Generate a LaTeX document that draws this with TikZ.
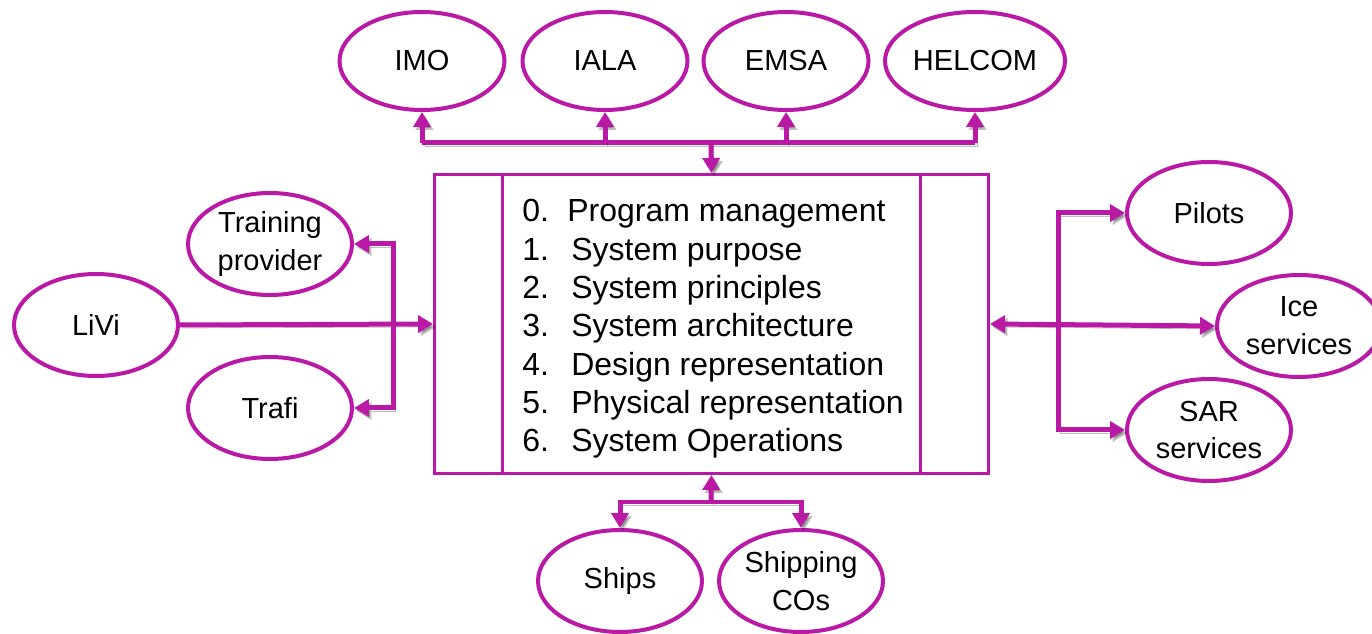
\documentclass[tikz,border=0pt]{standalone}
\usepackage{fontspec}
\setmainfont{Liberation Sans}
\usetikzlibrary{shapes.geometric,arrows.meta}
\definecolor{plum}{RGB}{185,25,165}
\begin{document}
\begin{tikzpicture}[x=0.02cm,y=-0.02cm,
    ent/.style={ellipse,draw=plum,line width=0.08cm,minimum width=3.28cm,minimum height=2.04cm,inner sep=0pt,align=center,font=\fontsize{16.5}{21.5}\selectfont},
    org/.style={ent,minimum width=3.3cm,minimum height=1.96cm},
    link/.style={plum,line width=0.1cm,preaction={draw=black,opacity=0.25,transform canvas={shift={(0.05cm,-0.06cm)}}}},
    arr/.style={link,-{Triangle[length=0.3cm,width=0.34cm]}},
    arrs/.style={link,{Triangle[length=0.3cm,width=0.34cm]}-{Triangle[length=0.3cm,width=0.34cm]}}]
    \useasboundingbox (0,0) rectangle (1372,634);
    % central box
    \node[draw=plum,line width=0.06cm,minimum width=11.08cm,minimum height=5.98cm,inner sep=0pt](sys)at(711.5,324){};
    \draw[plum,line width=0.06cm] (502,0 |- sys.north) -- (502,0 |- sys.south);
    \draw[plum,line width=0.06cm] (920,0 |- sys.north) -- (920,0 |- sys.south);
    \foreach \i/\x/\t in {0/567/Program management,1/571/System purpose,2/571/System principles,3/571/System architecture,4/571/Design representation,5/571/Physical representation,6/571/System Operations}{
        \node[anchor=base west,inner sep=0pt,font=\fontsize{18.2}{22}\selectfont](num\i)at(522,{222+38.33*\i}){\i.};
        \node[anchor=base west,inner sep=0pt,font=\fontsize{18.2}{22}\selectfont](item\i)at(\x,{222+38.33*\i}){\t};
    }
    % stakeholders
    \node[org](imo)at(422,61){IMO};
    \node[org](iala)at(605,61){IALA};
    \node[org](emsa)at(786,61){EMSA};
    \node[org,minimum width=3.6cm](helcom)at(975,61){HELCOM};
    \node[ent](train)at(270,244){Training\\provider};
    \node[ent](livi)at(96,325){LiVi};
    \node[ent](trafi)at(270,408){Trafi};
    \node[ent](pilots)at(1209,213){Pilots};
    \node[ent,inner sep=-0.2cm](ice)at(1299,326){Ice\\services};
    \node[ent](sar)at(1209,430){SAR\\services};
    \node[ent](ships)at(620,581){Ships};
    \node[ent,inner sep=-0.2cm](cos)at(801,581){Shipping\\COs};
    % buses
    \coordinate(tbus)at(711,143);
    \coordinate(lbus)at(393,325);
    \coordinate(rbus)at(1058,326);
    \coordinate(bbus)at(711,502);
    \draw[link](imo.south |- tbus)--(helcom.south |- tbus);
    \foreach \n in {imo,iala,emsa,helcom} \draw[arr](\n.south |- tbus)--(\n.south);
    \draw[arr](tbus)--(sys.north);
    \draw[arr](livi.east)--(sys.west);
    \draw[arr](lbus)|-(train.east);
    \draw[arr](lbus)|-(trafi.east);
    \draw[arrs](sys.east)--(ice.west);
    \draw[arr](rbus)|-(pilots.west);
    \draw[arr](rbus)|-(sar.west);
    \draw[arr](bbus)--(sys.south);
    \draw[arr](bbus)-|(ships.north);
    \draw[arr](bbus)-|(cos.north);
\end{tikzpicture}
\end{document}
